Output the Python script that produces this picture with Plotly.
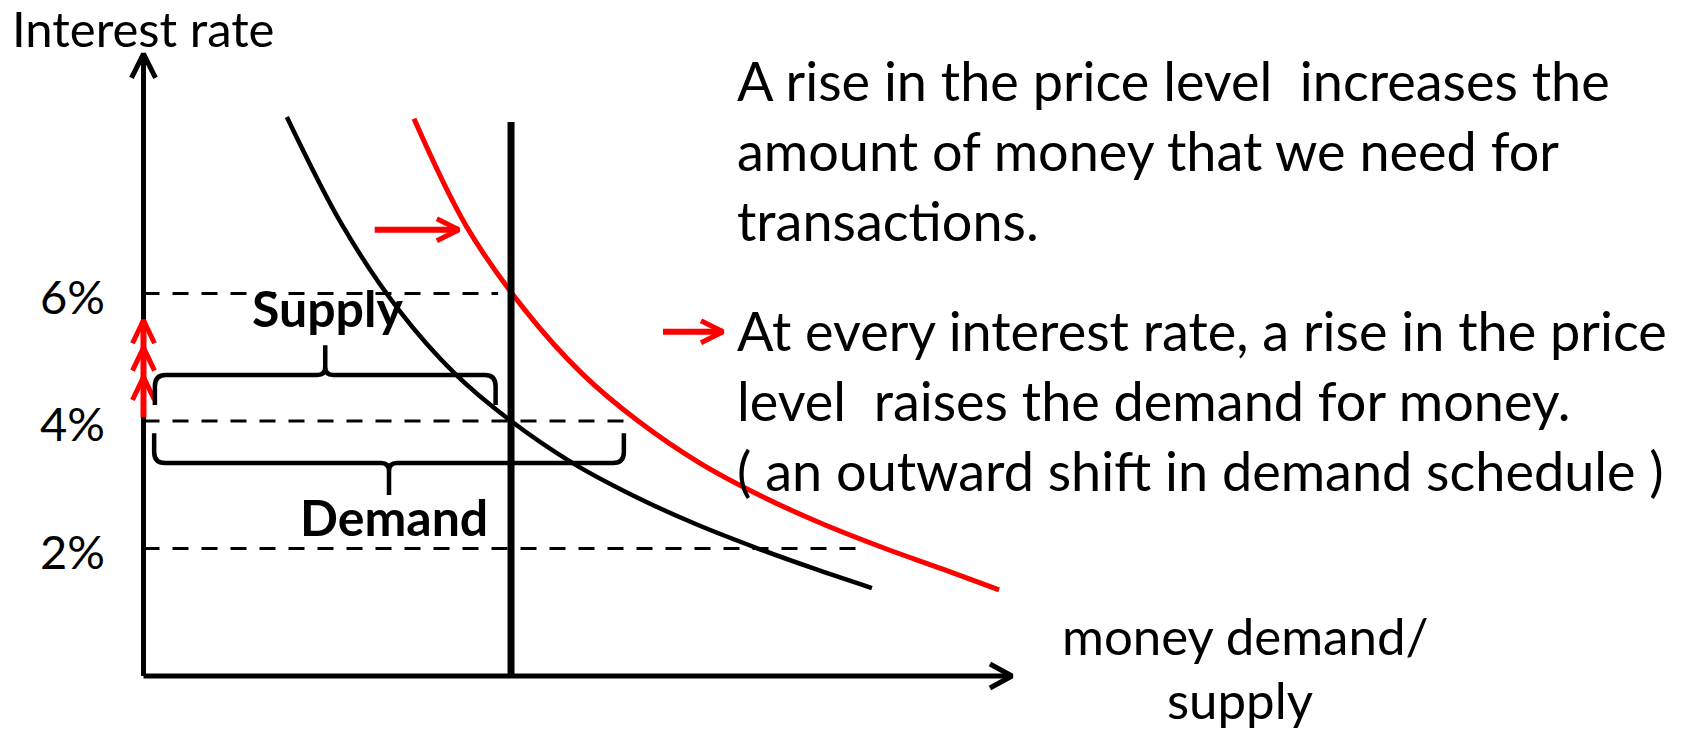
import plotly.graph_objects as go

# ---------------- data ----------------
rate_ticks = [2, 4, 6]
rate_tick_text = ["2%", "4%", "6%"]

money_supply = 10.0          # vertical money-supply line
supply_top = 8.69

demand_q = [3.90, 5.42, 6.95, 8.48, 10.0, 11.68, 13.36, 15.04, 16.72, 18.27, 19.82]
demand_r = [8.77, 7.06, 5.74, 4.74, 4.00, 3.34, 2.82, 2.38, 2.00, 1.68, 1.38]

new_demand_q = [7.36, 8.78, 10.38, 11.94, 13.46, 15.14, 16.82, 18.50, 20.18, 21.73, 23.28]
new_demand_r = [8.74, 7.06, 5.74, 4.74, 4.00, 3.34, 2.82, 2.38, 2.00, 1.68, 1.35]

dash_rates = [6, 4, 2]
dash_ends = [9.65, 13.51, 19.55]

x_axis_end = 23.63
y_axis_end = 9.76

supply_brace = dict(x0=0.31, x1=9.58, line=4.72, end=4.25, tip=5.19)
demand_brace = dict(x0=0.29, x1=13.07, line=3.34, end=3.81, tip=2.84)

shift_arrow = dict(x0=6.29, x1=8.58, y=7.0)
rate_rise_base = 4.06
rate_rise_tips = [5.58, 5.15, 4.69]

text_para1 = ["A rise in the price level\u00a0 increases the",
              "amount of money that we need for",
              "transactions."]
text_para2 = ["At every interest rate, a rise in the price",
              "level\u00a0 raises the demand for money.",
              "( an outward shift in demand schedule )"]

# ---------------- layout geometry ----------------
W, H = 1686, 732
ML = 110
X_RANGE = [-0.9116, 41.97]
Y_RANGE = [-0.878, 10.604]
PW, PH = W - ML, H
PX_X = PW / (X_RANGE[1] - X_RANGE[0])
PX_Y = PH / (Y_RANGE[1] - Y_RANGE[0])


def dx(p):
    return p / PX_X


def dy(p):
    return p / PX_Y


def px_to_paper(px, py):
    return (px - ML) / PW, 1 - py / PH


FONT = "Lato"
BLACK = "#000000"
RED = "#ff0000"

fig = go.Figure()


def add_line(xs, ys, color, width, dash=None, shape="linear"):
    fig.add_trace(go.Scatter(
        x=xs, y=ys, mode="lines",
        line=dict(color=color, width=width, dash=dash, shape=shape, smoothing=1.0),
        hoverinfo="skip", showlegend=False))


def chevron(x_tip, y_tip, direction, length=23, half=12):
    if direction == "up":
        return ([x_tip - dx(half), x_tip, x_tip + dx(half)],
                [y_tip - dy(length), y_tip, y_tip - dy(length)])
    return ([x_tip - dx(length), x_tip, x_tip - dx(length)],
            [y_tip + dy(half), y_tip, y_tip - dy(half)])


# dashed reference rates
for r, xe in zip(dash_rates, dash_ends):
    add_line([0, xe], [r, r], BLACK, 3, dash="16px,13px")

# demand curves
add_line(demand_q, demand_r, BLACK, 4.5, shape="spline")
add_line(new_demand_q, new_demand_r, RED, 5, shape="spline")

# money supply
add_line([money_supply, money_supply], [0, supply_top], BLACK, 7)

# axes with arrow heads
add_line([0, x_axis_end], [0, 0], BLACK, 5)
add_line([0, 0], [0, y_axis_end], BLACK, 5)
cx, cy = chevron(0, y_axis_end, "up", 24, 12)
add_line(cx, cy, BLACK, 5)
cx, cy = chevron(x_axis_end, 0, "right", 22, 12)
add_line(cx, cy, BLACK, 5)

# rising interest rate arrows on the vertical axis
add_line([0, 0], [rate_rise_base, rate_rise_tips[0]], RED, 6)
for t in rate_rise_tips:
    cx, cy = chevron(0, t, "up", 23, 11)
    add_line(cx, cy, RED, 5)

# shift arrow
add_line([shift_arrow["x0"], shift_arrow["x1"]], [shift_arrow["y"]] * 2, RED, 6)
cx, cy = chevron(shift_arrow["x1"], shift_arrow["y"], "right", 22, 11)
add_line(cx, cy, RED, 5)

# arrow next to the text (pixel based decoration)
ta_x0 = (663 - 143.5) / PX_X
ta_x1 = (723 - 143.5) / PX_X
ta_y = (676 - 331.7) / PX_Y
add_line([ta_x0, ta_x1], [ta_y, ta_y], RED, 6)
cx, cy = chevron(ta_x1, ta_y, "right", 22, 11)
add_line(cx, cy, RED, 5)


# braces
def brace_path(b):
    x0, x1, yl, ye, yt = b["x0"], b["x1"], b["line"], b["end"], b["tip"]
    s = 1 if ye > yl else -1
    t = 1 if yt > yl else -1
    rx, ry = dx(11), dy(11)
    mx, my = dx(8), dy(8)
    xm = (x0 + x1) / 2
    return (f"M {x0},{ye} L {x0},{yl + s * ry} Q {x0},{yl} {x0 + rx},{yl} "
            f"L {xm - mx},{yl} Q {xm},{yl} {xm},{yl + t * my} L {xm},{yt} "
            f"M {xm},{yl + t * my} Q {xm},{yl} {xm + mx},{yl} "
            f"L {x1 - rx},{yl} Q {x1},{yl} {x1},{yl + s * ry} L {x1},{ye}")


for b in (supply_brace, demand_brace):
    fig.add_shape(type="path", xref="x", yref="y", path=brace_path(b),
                  line=dict(color=BLACK, width=4.5), layer="above")

annotations = []


def add_text(text, px, py_base, size, anchor="left", bold=False):
    asc = 0.387 * size
    xp, yp = px_to_paper(px, py_base - asc)
    annotations.append(dict(
        text=f"<b>{text}</b>" if bold else text,
        x=xp, y=yp, xref="paper", yref="paper",
        xanchor=anchor, yanchor="middle", showarrow=False,
        font=dict(family=FONT, size=size, color=BLACK)))


MAIN = 54
for i, line in enumerate(text_para1):
    add_text(line, 735, 101 + 70 * i, MAIN)
for i, line in enumerate(text_para2):
    add_text(line, 735, 351 + 70 * i, MAIN)

add_text("Interest rate", 143.5, 47, 49, anchor="center")
add_text("money demand/", 1245, 655, 51, anchor="center")
add_text("supply", 1240, 719, 51, anchor="center")
add_text("Supply", 327, 327, 50, anchor="center", bold=True)
add_text("Demand", 393.5, 536, 50, anchor="center", bold=True)

# tick labels on the interest-rate axis
for v, t in zip(rate_ticks, rate_tick_text):
    annotations.append(dict(
        text=t, x=0, y=v, xref="x", yref="y", xanchor="right", yanchor="middle",
        xshift=-37, yshift=-2, showarrow=False,
        font=dict(family=FONT, size=47, color=BLACK)))

fig.update_layout(
    width=W, height=H,
    margin=dict(l=ML, r=0, t=0, b=0, pad=0),
    paper_bgcolor="white", plot_bgcolor="white",
    showlegend=False,
    xaxis=dict(range=X_RANGE, visible=False, fixedrange=True),
    yaxis=dict(range=Y_RANGE, visible=False, fixedrange=True),
    annotations=annotations,
)

fig.write_html("out.html", config={"displayModeBar": False},
               post_script="document.body.style.margin='0';document.body.style.overflow='hidden';")
